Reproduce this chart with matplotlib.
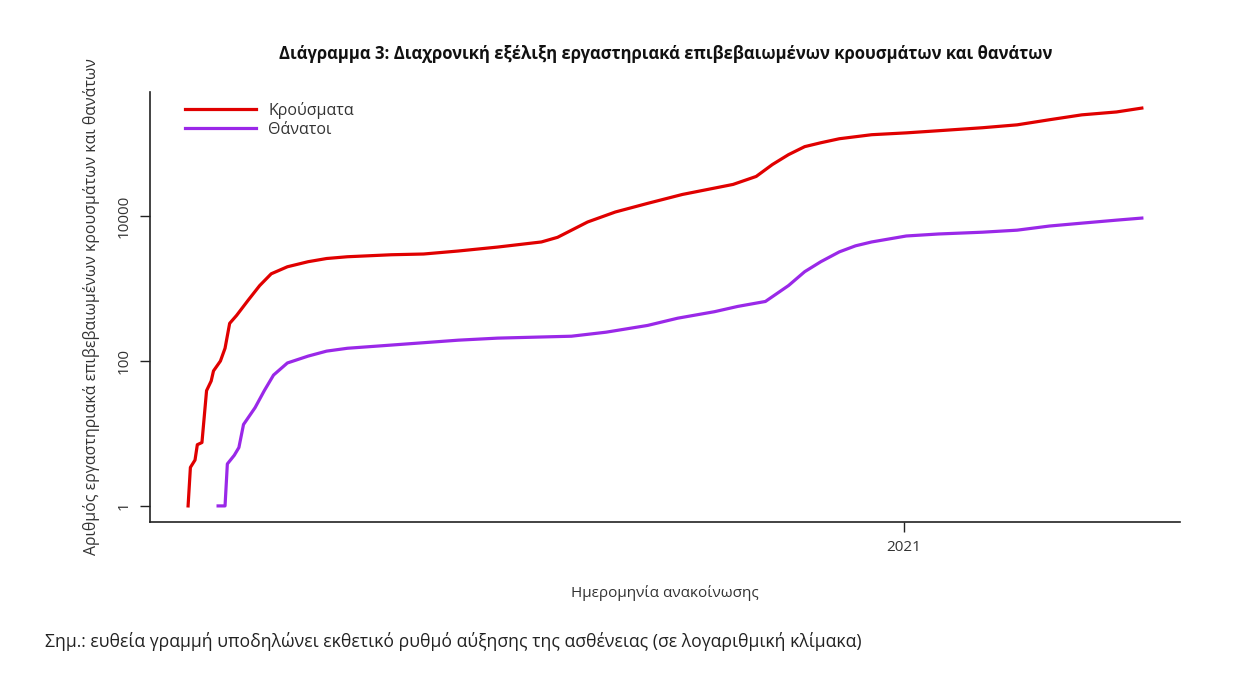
import numpy as np
import matplotlib
matplotlib.use("Agg")
import matplotlib.pyplot as plt
import matplotlib.dates as mdates

plt.rcParams["font.family"] = ["Open Sans", "DejaVu Sans"]

# === data ===
start = np.datetime64("2020-02-26")

# days since first case, cumulative cases
case_days = [0, 1, 3, 4, 6, 8, 10, 11, 14, 16, 18, 21, 26, 31, 36, 43, 52, 60,
             69, 88, 102, 117, 134, 153, 160, 173, 185, 199, 214, 236, 246, 253,
             260, 267, 274, 282, 296, 311, 325, 344, 359, 373, 387, 402, 413]
cases = [1, 3.4, 4.3, 7, 7.5, 39, 53, 73, 100, 150, 331, 426, 690, 1100, 1600,
         2000, 2350, 2600, 2750, 2930, 3000, 3300, 3740, 4400, 5100, 8300, 11400,
         15000, 19900, 27400, 35300, 51500, 70600, 91000, 103000, 117000, 133000,
         141000, 151000, 166000, 182000, 214000, 250000, 274000, 310000]

# days since first case, cumulative deaths
death_days = [13, 16, 17, 20, 22, 24, 29, 33, 37, 43, 52, 60, 69, 88, 117, 134,
              166, 181, 199, 212, 228, 238, 250, 260, 267, 274, 282, 289, 296,
              311, 325, 344, 359, 373, 387, 402, 413]
deaths = [1, 1, 3.8, 5, 6.4, 13.3, 22.7, 39, 64, 94, 117, 137, 150, 166, 194,
          207, 220, 250, 310, 390, 480, 567, 664, 1100, 1710, 2350, 3210, 3890,
          4400, 5320, 5670, 6000, 6400, 7300, 8000, 8800, 9400]

labels = ["Κρούσματα", "Θάνατοι"]
y_ticks = [1, 100, 10000]

case_dates = start + np.array(case_days, dtype="timedelta64[D]")
death_dates = start + np.array(death_days, dtype="timedelta64[D]")

# === plotting ===
fig = plt.figure(figsize=(12.6, 6.93), dpi=100)
ax = fig.add_axes([0.119, 0.247, 0.8175, 0.62])

ax.plot(case_dates, cases, color="#e00000", lw=2.3, label=labels[0])
ax.plot(death_dates, deaths, color="#9a28e8", lw=2.3, label=labels[1])

ax.set_yscale("log")
ax.margins(x=0.04, y=0.04)
ax.set_yticks(y_ticks)
ax.set_yticklabels([str(v) for v in y_ticks], rotation=90, va="center")
ax.yaxis.set_minor_locator(matplotlib.ticker.NullLocator())
ax.set_xticks([np.datetime64("2021-01-01")])
ax.xaxis.set_major_formatter(mdates.DateFormatter("%Y"))
ax.xaxis.set_minor_locator(matplotlib.ticker.NullLocator())
ax.tick_params(length=7, width=1, labelsize=11, color="#222222", labelcolor="#333333", pad=6)

for side in ["top", "right"]:
    ax.spines[side].set_visible(False)
for side in ["left", "bottom"]:
    ax.spines[side].set_linewidth(1.2)
    ax.spines[side].set_color("#222222")

ax.set_xlabel("Ημερομηνία ανακοίνωσης", fontsize=11, color="#333333", labelpad=22)
ax.set_ylabel("Αριθμός εργαστηριακά επιβεβαιωμένων κρουσμάτων και θανάτων",
              fontsize=11.4, color="#333333", labelpad=12)

ax.legend(loc="upper left", bbox_to_anchor=(0.025, 1.0), frameon=False,
          handlelength=4.4, handletextpad=0.8, labelspacing=0.2, fontsize=11.5,
          labelcolor="#333333", borderaxespad=0.2)

fig.text(0.528, 0.922, "Διάγραμμα 3: Διαχρονική εξέλιξη εργαστηριακά επιβεβαιωμένων κρουσμάτων και θανάτων",
         ha="center", va="center", fontsize=12, fontweight="bold", color="#111111")
fig.text(0.036, 0.075, "Σημ.: ευθεία γραμμή υποδηλώνει εκθετικό ρυθμό αύξησης της ασθένειας (σε λογαριθμική κλίμακα)",
         ha="left", va="center", fontsize=12.7, color="#222222")

plt.savefig("out.png", dpi=100)
